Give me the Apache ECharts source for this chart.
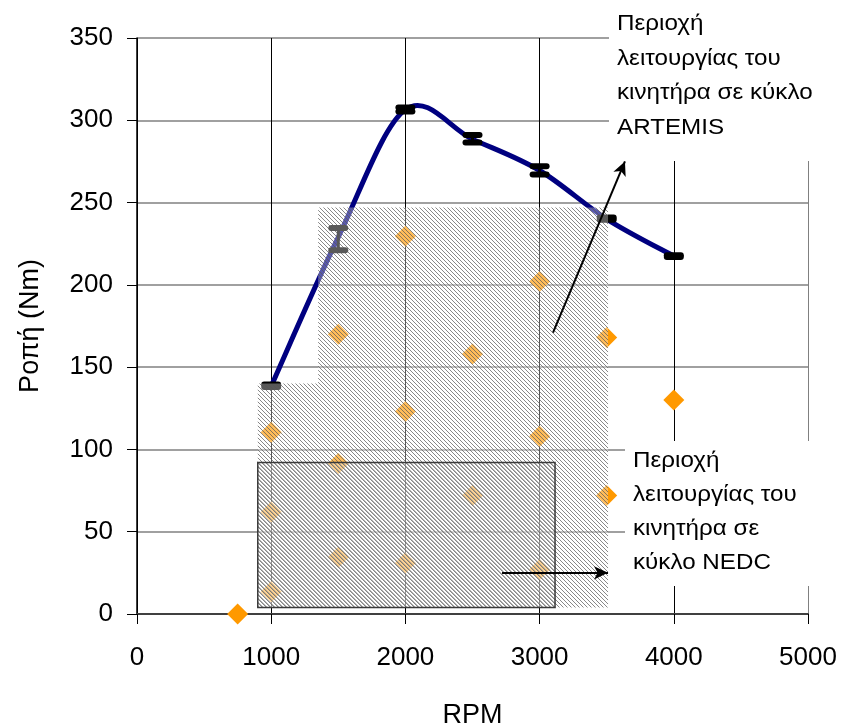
<!DOCTYPE html>
<html>
<head>
<meta charset="utf-8">
<script src="https://cdn.jsdelivr.net/npm/echarts@6/dist/echarts.min.js"></script>
<style>
  html, body { margin: 0; padding: 0; background: #fff; }
  #chart { width: 842px; height: 726px; }
</style>
</head>
<body>
<div id="chart"></div>
<script>
// torque curve (RPM, Nm)
const rpm = [1000, 1500, 2000, 2500, 3000, 3500, 4000];
const torque = [138.5, 229, 306.5, 288.5, 269.5, 240, 217.5];
const torqueLow = [138, 221, 305.4, 286.5, 267, 239.5, 217];
const torqueHigh = [139.5, 234.5, 307.8, 291, 272, 241, 218];

// operating points
const pointRpm = [750, 1000, 1000, 1000, 1500, 1500, 1500, 2000, 2000, 2000,
  2500, 2500, 3000, 3000, 3000, 3500, 3500, 4000];
const pointTorque = [0, 13.5, 62, 110.5, 34.5, 91.5, 170, 31, 123, 229.5,
  72, 158, 27, 108, 202, 72, 168, 130];

// regions
const artemisRegion = [[900, 4], [900, 140], [1350, 140], [1350, 247], [3510, 247], [3510, 4]];
const nedcRegion = [[900, 4], [900, 92], [3115, 92], [3115, 4]];

// arrows [from, to]
const artemisArrow = [[3100, 171], [3636, 275]];
const nedcArrow = [[2720, 25], [3510, 25]];

const xTicks = [0, 1000, 2000, 3000, 4000, 5000];
const yTicks = [0, 50, 100, 150, 200, 250, 300, 350];

const FONT = '"Liberation Sans", Arial, sans-serif';

function hatch(shift) {
  const c = document.createElement('canvas');
  c.width = 4; c.height = 4;
  const g = c.getContext('2d');
  g.fillStyle = 'rgba(255,255,255,0.35)';
  g.fillRect(0, 0, 4, 4);
  g.fillStyle = 'rgba(85,85,85,0.7)';
  for (let i = 0; i < 4; i++) g.fillRect(i, (i + shift) % 4, 1, 1);
  return c;
}

function regionSeries(pts, shift, border) {
  return {
    type: 'custom',
    z: 10,
    silent: true,
    data: [0],
    renderItem: function (params, api) {
      const points = pts.map(p => api.coord(p));
      return {
        type: 'polygon',
        shape: { points: points },
        style: {
          fill: { image: hatch(shift), repeat: 'repeat' },
          stroke: border ? '#3a3a3a' : null,
          lineWidth: border ? 1.5 : 0
        }
      };
    }
  };
}

// excel-like smoothed line (catmull-rom through the points)
function smoothPath(api) {
  const p = rpm.map((x, i) => api.coord([x, torque[i]]));
  let d = 'M' + p[0][0] + ' ' + p[0][1];
  for (let i = 0; i < p.length - 1; i++) {
    const p0 = p[i - 1] || p[i];
    const p1 = p[i];
    const p2 = p[i + 1];
    const p3 = p[i + 2] || p[i + 1];
    const c1 = [p1[0] + (p2[0] - p0[0]) / 6, p1[1] + (p2[1] - p0[1]) / 6];
    const c2 = [p2[0] - (p3[0] - p1[0]) / 6, p2[1] - (p3[1] - p1[1]) / 6];
    d += ' C' + c1.join(' ') + ' ' + c2.join(' ') + ' ' + p2.join(' ');
  }
  return d;
}

const chart = echarts.init(document.getElementById('chart'));

const option = {
  animation: false,
  backgroundColor: '#fff',
  grid: { left: 137, right: 34, top: 38, bottom: 112, outerBoundsMode: 'none', containLabel: false },
  xAxis: {
    type: 'value',
    min: 0, max: 5000, interval: 1000,
    name: 'RPM',
    nameLocation: 'middle',
    nameGap: 88,
    nameTextStyle: { fontFamily: FONT, fontSize: 27, color: '#000' },
    axisLine: { show: true, lineStyle: { color: '#404040', width: 2 } },
    axisTick: { show: true, length: 10, lineStyle: { color: '#000', width: 1 } },
    axisLabel: { margin: 31, fontFamily: FONT, fontSize: 26, color: '#000',
      formatter: v => xTicks.includes(v) ? String(v) : '' },
    splitLine: { show: true, lineStyle: { color: ['#000', '#000', '#000', '#000', '#000', '#808080'], width: 1 } }
  },
  yAxis: {
    type: 'value',
    min: 0, max: 350, interval: 50,
    name: 'Ροπή (Nm)',
    nameLocation: 'middle',
    nameGap: 93,
    nameTextStyle: { fontFamily: FONT, fontSize: 27, color: '#000' },
    axisLine: { show: true, lineStyle: { color: '#000', width: 1.5 } },
    axisTick: { show: true, length: 10, lineStyle: { color: '#000', width: 1 } },
    axisLabel: { margin: 24, fontFamily: FONT, fontSize: 26, color: '#000',
      formatter: v => yTicks.includes(v) ? String(v) : '' },
    splitLine: { show: true, lineStyle: { color: '#808080', width: 1.5 } }
  },
  series: [
    {
      type: 'custom',
      z: 2,
      silent: true,
      data: [0],
      renderItem: function (params, api) {
        return {
          type: 'path',
          shape: { pathData: smoothPath(api) },
          style: { fill: null, stroke: '#000080', lineWidth: 5, lineJoin: 'round' }
        };
      }
    },
    {
      type: 'custom',
      z: 3,
      silent: true,
      data: rpm.map((x, i) => [x, torqueLow[i], torqueHigh[i]]),
      renderItem: function (params, api) {
        const lo = api.coord([api.value(0), api.value(1)]);
        const hi = api.coord([api.value(0), api.value(2)]);
        const hw = 7;
        const st = { stroke: '#000', lineWidth: 6, lineCap: 'round' };
        return {
          type: 'group',
          children: [
            { type: 'line', shape: { x1: lo[0], y1: lo[1], x2: hi[0], y2: hi[1] }, style: { stroke: '#000', lineWidth: 3 } },
            { type: 'line', shape: { x1: lo[0] - hw, y1: lo[1], x2: lo[0] + hw, y2: lo[1] }, style: st },
            { type: 'line', shape: { x1: hi[0] - hw, y1: hi[1], x2: hi[0] + hw, y2: hi[1] }, style: st }
          ]
        };
      }
    },
    {
      type: 'scatter',
      z: 4,
      silent: true,
      symbol: 'diamond',
      symbolSize: 21,
      itemStyle: { color: '#FF9900', opacity: 1 },
      data: pointRpm.map((x, i) => [x, pointTorque[i]])
    },
    regionSeries(artemisRegion, 0, false),
    regionSeries(nedcRegion, 1, true),
    {
      type: 'line',
      z: 12,
      silent: true,
      data: [],
      markLine: {
        z: 20,
        silent: true,
        animation: false,
        symbol: ['none', 'arrow'],
        symbolSize: [10, 14],
        label: { show: false },
        lineStyle: { color: '#000', width: 2, type: 'solid' },
        data: [
          [{ coord: artemisArrow[0] }, { coord: artemisArrow[1] }],
          [{ coord: nedcArrow[0] }, { coord: nedcArrow[1] }]
        ]
      }
    }
  ],
  graphic: [
    { type: 'rect', z: 100, shape: { x: 609, y: 0, width: 233, height: 161 }, style: { fill: '#fff' } },
    { type: 'rect', z: 100, shape: { x: 625, y: 441, width: 217, height: 145 }, style: { fill: '#fff' } },
    {
      type: 'text', z: 101, x: 617, y: 7, scaleX: 1.1,
      style: { text: 'Περιοχή\nλειτουργίας του\nκινητήρα σε κύκλο\nARTEMIS', font: '22px ' + FONT, lineHeight: 34.5, fill: '#000', verticalAlign: 'top' }
    },
    {
      type: 'text', z: 101, x: 633, y: 444, scaleX: 1.1,
      style: { text: 'Περιοχή\nλειτουργίας του\nκινητήρα σε\nκύκλο NEDC', font: '22px ' + FONT, lineHeight: 34, fill: '#000', verticalAlign: 'top' }
    }
  ]
};

chart.setOption(option);
</script>
</body>
</html>
